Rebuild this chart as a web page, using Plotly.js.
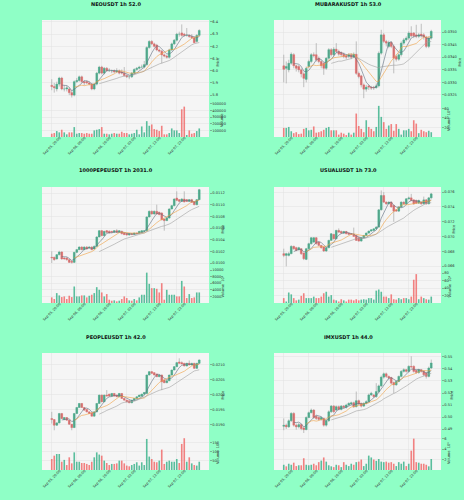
<!DOCTYPE html>
<html><head><meta charset="utf-8">
<script src="https://cdn.plot.ly/plotly-3.0.1.min.js"></script>
<style>html,body{margin:0;padding:0;background:#8fffc6;}</style>
</head><body><div id="chart" style="width:464px;height:500px;"></div>
<script>
// ---------- data ----------
const xTickIdx = [0, 10, 20, 30, 40, 50];
const xTickLabels = ['Sep 05, 20:00','Sep 06, 06:00','Sep 06, 16:00','Sep 07, 02:00','Sep 07, 12:00','Sep 07, 22:00'];

const titles = ['NEOUSDT 1h 52.0','MUBARAKUSDT 1h 53.0','1000PEPEUSDT 1h 2031.0','USUALUSDT 1h 73.0','PEOPLEUSDT 1h 42.0','IMXUSDT 1h 44.0'];
const volumeTitles = ['Volume','Volume  10⁶','Volume  10⁶','Volume  10⁶','Volume  10⁶','Volume  10⁶'];

const neoOpen  = [5.88,5.87,5.85,5.89,5.94,5.85,5.85,5.85,5.82,5.80,5.91,5.92,5.95,5.91,5.91,5.90,5.89,5.85,5.89,5.98,6.03,5.98,6.02,6.00,6.00,6.00,5.99,6.00,5.99,5.98,5.96,5.95,5.95,5.98,6.01,6.02,6.03,6.03,6.05,6.19,6.24,6.22,6.21,6.17,6.16,6.13,6.12,6.11,6.17,6.22,6.25,6.30,6.31,6.30,6.29,6.29,6.28,6.27,6.24,6.29];
const neoClose = [5.87,5.86,5.89,5.94,5.85,5.85,5.86,5.82,5.80,5.91,5.92,5.95,5.91,5.90,5.90,5.89,5.85,5.89,5.98,6.03,5.98,6.02,6.00,6.00,6.00,5.99,6.00,5.98,5.98,5.96,5.95,5.95,5.98,6.01,6.02,6.03,6.03,6.05,6.19,6.24,6.22,6.20,6.17,6.16,6.13,6.12,6.11,6.17,6.22,6.25,6.30,6.30,6.29,6.29,6.29,6.28,6.27,6.23,6.29,6.33];
const neoHigh  = [5.93,5.90,5.91,5.95,5.95,5.88,5.88,5.86,5.84,5.92,5.94,5.96,5.96,5.92,5.92,5.91,5.90,5.90,5.99,6.04,6.04,6.03,6.03,6.02,6.01,6.01,6.02,6.01,6.01,6.03,5.97,5.96,5.99,6.02,6.03,6.04,6.05,6.08,6.20,6.25,6.25,6.23,6.22,6.18,6.17,6.14,6.13,6.18,6.23,6.26,6.31,6.32,6.38,6.31,6.35,6.30,6.30,6.28,6.30,6.34];
const neoLow   = [5.84,5.82,5.83,5.87,5.84,5.83,5.83,5.80,5.78,5.79,5.90,5.91,5.90,5.88,5.89,5.88,5.84,5.84,5.88,5.97,5.97,5.97,5.99,5.99,5.98,5.98,5.98,5.97,5.97,5.95,5.94,5.93,5.94,5.97,6.00,6.01,6.02,6.02,6.04,6.18,6.21,6.19,6.16,6.15,6.06,6.11,6.10,6.10,6.16,6.21,6.24,6.28,6.28,6.28,6.28,6.27,6.26,6.23,6.23,6.28];
const neoVolume = [50000,60000,90000,70000,110000,70000,40000,70000,70000,150000,50000,60000,60000,50000,60000,50000,50000,100000,110000,120000,150000,50000,50000,40000,50000,60000,50000,50000,80000,60000,60000,40000,50000,60000,110000,40000,160000,70000,240000,170000,190000,120000,110000,90000,170000,40000,40000,60000,130000,100000,100000,60000,420000,460000,30000,100000,50000,60000,90000,130000];

const mubOpen  = [.03366,.03356,.03350,.03376,.03410,.03366,.03363,.03350,.03334,.03312,.03363,.03383,.03410,.03410,.03396,.03383,.03376,.03356,.03396,.03430,.03410,.03432,.03423,.03419,.03412,.03406,.03403,.03410,.03400,.03412,.03336,.03326,.03290,.03273,.03286,.03281,.03281,.03279,.03286,.03416,.03489,.03463,.03443,.03459,.03443,.03403,.03392,.03410,.03456,.03469,.03476,.03496,.03496,.03489,.03483,.03492,.03489,.03480,.03443,.03476];
const mubClose = [.03352,.03363,.03376,.03412,.03366,.03356,.03350,.03334,.03316,.03356,.03383,.03410,.03406,.03390,.03383,.03366,.03356,.03396,.03430,.03410,.03432,.03423,.03412,.03410,.03403,.03400,.03410,.03400,.03412,.03336,.03323,.03290,.03273,.03281,.03281,.03277,.03279,.03286,.03416,.03489,.03463,.03456,.03459,.03443,.03396,.03392,.03410,.03456,.03469,.03476,.03496,.03485,.03485,.03483,.03489,.03485,.03480,.03443,.03476,.03503];
const mubHigh  = [.03410,.03383,.03390,.03419,.03416,.03370,.03370,.03356,.03340,.03363,.03390,.03416,.03419,.03456,.03403,.03390,.03380,.03400,.03436,.03436,.03440,.03456,.03430,.03423,.03419,.03412,.03416,.03416,.03419,.03463,.03343,.03330,.03296,.03290,.03290,.03286,.03286,.03296,.03423,.03509,.03496,.03469,.03466,.03463,.03450,.03410,.03416,.03463,.03476,.03483,.03503,.03523,.03500,.03529,.03496,.03533,.03496,.03485,.03483,.03509];
const mubLow   = [.03300,.03296,.03340,.03370,.03356,.03343,.03340,.03320,.03281,.03300,.03356,.03376,.03400,.03383,.03376,.03356,.03330,.03350,.03390,.03403,.03403,.03416,.03406,.03403,.03396,.03392,.03396,.03392,.03396,.03330,.03316,.03280,.03237,.03263,.03270,.03270,.03270,.03275,.03280,.03410,.03456,.03443,.03436,.03436,.03336,.03383,.03386,.03403,.03450,.03463,.03469,.03480,.03476,.03476,.03476,.03478,.03470,.03436,.03436,.03470];
const mubVolume = [19,19,21,12,8,10,6,7,17,19,14,15,22,9,10,12,15,19,21,14,14,14,5,9,7,4,9,5,9,49,23,17,10,35,21,17,12,21,65,42,31,17,24,27,13,27,17,5,14,14,17,12,35,28,8,15,12,10,13,10];

const pepeOpen  = [.010097,.010097,.010069,.010143,.010189,.010086,.010086,.010057,.010029,.010011,.010183,.010229,.010274,.010229,.010274,.010257,.010274,.010240,.010286,.010446,.010554,.010469,.010554,.010543,.010543,.010526,.010554,.010526,.010543,.010514,.010503,.010480,.010503,.010491,.010514,.010514,.010526,.010543,.010554,.010789,.010886,.010840,.010886,.010869,.010857,.010754,.010726,.010771,.010926,.010983,.011114,.011086,.011057,.011097,.011086,.011057,.011086,.011051,.011000,.011086];
const pepeClose = [.010086,.010057,.010143,.010189,.010069,.010069,.010057,.010011,.010011,.010183,.010229,.010274,.010229,.010274,.010240,.010274,.010229,.010286,.010446,.010554,.010469,.010543,.010526,.010514,.010526,.010554,.010526,.010554,.010503,.010486,.010480,.010503,.010486,.010514,.010503,.010543,.010554,.010554,.010789,.010886,.010840,.010886,.010840,.010829,.010743,.010726,.010771,.010926,.010983,.011097,.011074,.011057,.011097,.011046,.011057,.011086,.011040,.011000,.011086,.011257];
const pepeHigh  = [.010200,.010110,.010150,.010210,.010200,.010097,.010097,.010069,.010040,.010190,.010240,.010286,.010286,.010286,.010290,.010290,.010286,.010300,.010460,.010560,.010560,.010550,.010560,.010560,.010550,.010565,.010580,.010560,.010554,.010520,.010514,.010510,.010514,.010520,.010520,.010550,.010560,.010565,.010800,.010900,.010900,.010900,.011000,.010880,.010870,.010760,.010780,.010940,.010990,.011110,.011229,.011097,.011110,.011229,.011097,.011097,.011100,.011060,.011097,.011270];
const pepeLow   = [.010000,.010040,.010060,.010130,.010057,.010057,.010040,.010000,.009990,.010000,.010170,.010220,.010220,.010220,.010229,.010250,.010220,.010229,.010280,.010440,.010460,.010460,.010514,.010503,.010514,.010520,.010514,.010514,.010490,.010480,.010469,.010470,.010480,.010486,.010497,.010509,.010520,.010537,.010550,.010780,.010829,.010829,.010830,.010820,.010730,.010554,.010720,.010760,.010920,.010970,.011060,.011040,.011050,.011040,.011050,.011050,.011030,.010990,.010990,.011080];
const pepeVolume = [1700,1200,3000,2300,1800,2000,1200,2200,1800,5000,2000,2000,2300,2300,1700,2200,2500,3000,4800,4000,3200,2000,2700,1000,700,800,500,700,1200,2000,1500,800,700,1200,800,1700,2500,2500,9200,5800,4500,4500,4300,3200,6000,1000,4000,2500,2500,2500,2000,2000,6700,5000,1500,2700,1500,1700,3200,3200];

const usualOpen  = [.06767,.06744,.06744,.06767,.06866,.06848,.06820,.06834,.06776,.06690,.06834,.06902,.06924,.06983,.06924,.06879,.06857,.06803,.06848,.06947,.07028,.06969,.07082,.07068,.07046,.07068,.07046,.07037,.07028,.07014,.06983,.06938,.06983,.07014,.07046,.07073,.07082,.07104,.07127,.07361,.07555,.07465,.07442,.07465,.07420,.07361,.07343,.07400,.07465,.07442,.07510,.07523,.07496,.07487,.07451,.07465,.07442,.07496,.07442,.07523];
const usualClose = [.06744,.06767,.06767,.06866,.06834,.06812,.06848,.06767,.06699,.06834,.06902,.06983,.06983,.06902,.06879,.06848,.06803,.06848,.06947,.07037,.06969,.07082,.07059,.07046,.07068,.07037,.07028,.07028,.07001,.06947,.06938,.06983,.07014,.07046,.07073,.07091,.07104,.07127,.07361,.07555,.07465,.07442,.07465,.07400,.07343,.07343,.07400,.07465,.07442,.07510,.07523,.07487,.07442,.07451,.07487,.07442,.07496,.07442,.07523,.07577];
const usualHigh  = [.06834,.06780,.06790,.06880,.06875,.06860,.06860,.06840,.06780,.06845,.06915,.06992,.06992,.06992,.06930,.06885,.06865,.06860,.06955,.07045,.07035,.07090,.07110,.07080,.07075,.07075,.07055,.07045,.07120,.07020,.06990,.06990,.07020,.07055,.07080,.07100,.07110,.07140,.07370,.07623,.07600,.07475,.07475,.07475,.07430,.07370,.07410,.07475,.07475,.07520,.07540,.07577,.07500,.07500,.07500,.07475,.07540,.07505,.07535,.07590];
const usualLow   = [.06720,.06595,.06730,.06760,.06820,.06800,.06810,.06750,.06680,.06680,.06820,.06890,.06915,.06890,.06870,.06835,.06790,.06790,.06840,.06940,.06960,.06960,.07050,.07040,.07040,.07030,.07020,.07020,.06995,.06940,.06930,.06930,.06975,.07010,.07040,.07065,.07075,.07095,.07120,.07350,.07455,.07430,.07435,.07390,.07200,.07335,.07335,.07390,.07430,.07430,.07500,.07480,.07430,.07440,.07440,.07430,.07435,.07430,.07435,.07510];
const usualVolume = [13,4,28,23,13,7,9,19,26,13,13,13,17,13,13,17,26,30,17,21,9,7,4,10,7,4,9,9,7,10,7,9,10,9,13,13,9,33,36,30,17,17,13,23,10,9,13,10,13,13,10,17,62,77,10,17,13,10,9,17];

const peopleOpen  = [.019213,.019179,.018989,.019068,.019380,.019179,.019246,.019157,.019023,.018911,.019380,.019581,.019716,.019581,.019514,.019436,.019403,.019291,.019436,.019716,.019995,.019771,.019995,.020028,.019961,.020050,.019995,.019939,.020050,.019883,.019827,.019805,.019738,.019827,.019883,.019939,.019961,.020028,.020050,.020665,.020777,.020743,.020698,.020609,.020665,.020497,.020408,.020475,.020665,.020832,.020944,.021101,.021078,.021056,.020966,.021056,.021000,.021056,.020888,.021056];
const peopleClose = [.019179,.018989,.019068,.019380,.019213,.019246,.019157,.019023,.018911,.019380,.019581,.019716,.019581,.019492,.019436,.019380,.019291,.019436,.019716,.019995,.019771,.019995,.019961,.019961,.020050,.019961,.019939,.020050,.019883,.019827,.019771,.019738,.019827,.019883,.019939,.019995,.020028,.020084,.020665,.020777,.020721,.020665,.020609,.020665,.020441,.020408,.020475,.020665,.020832,.020944,.021078,.021056,.021034,.020966,.021056,.021000,.021056,.020888,.021056,.021168];
const peopleHigh  = [.019436,.019190,.019080,.019400,.019400,.019260,.019260,.019170,.019030,.019400,.019600,.019730,.019730,.019600,.019520,.019450,.019410,.019450,.019730,.020010,.020010,.020010,.020162,.020040,.020060,.020060,.020010,.020060,.020060,.019895,.019840,.019815,.019840,.019895,.019950,.020005,.020040,.020095,.020680,.020790,.020790,.020755,.020710,.020680,.020680,.020510,.020490,.020680,.020845,.020955,.021090,.021223,.021120,.021070,.021070,.021150,.021070,.021070,.021070,.021180];
const peopleLow   = [.019045,.018822,.018970,.019050,.019200,.019160,.019140,.019000,.018822,.018900,.019370,.019570,.019570,.019480,.019420,.019370,.019280,.019280,.019420,.019700,.019760,.019760,.019950,.019950,.019950,.019950,.019930,.019930,.019870,.019815,.019760,.019725,.019725,.019815,.019870,.019930,.019950,.020020,.020040,.020650,.020710,.020650,.020595,.020595,.020162,.020395,.020395,.020460,.020650,.020820,.020930,.021045,.021020,.020955,.020955,.020990,.020990,.020875,.020875,.021045];
const peopleVolume = [60,78,87,87,45,55,27,69,36,96,45,45,38,38,33,27,45,69,96,84,78,51,38,27,33,33,36,51,51,36,24,20,27,33,42,24,42,27,169,73,60,45,42,51,111,33,45,51,45,45,60,38,142,173,45,69,36,27,24,45];

const imxOpen  = [.4923,.4932,.4918,.4969,.5030,.4932,.4918,.4937,.4909,.4895,.4996,.5036,.5058,.5007,.4996,.4980,.4988,.4932,.4969,.5044,.5091,.5058,.5086,.5063,.5091,.5080,.5100,.5108,.5119,.5086,.5136,.5114,.5091,.5114,.5128,.5184,.5184,.5170,.5212,.5259,.5332,.5360,.5338,.5329,.5287,.5268,.5296,.5338,.5380,.5394,.5380,.5422,.5422,.5388,.5371,.5394,.5380,.5366,.5338,.5408];
const imxClose = [.4932,.4918,.4969,.5030,.4932,.4918,.4937,.4904,.4895,.4996,.5036,.5058,.4996,.4988,.4980,.4996,.4932,.4969,.5044,.5091,.5044,.5086,.5063,.5091,.5080,.5100,.5114,.5119,.5086,.5136,.5108,.5091,.5114,.5128,.5184,.5198,.5170,.5212,.5259,.5332,.5360,.5338,.5324,.5282,.5268,.5296,.5338,.5380,.5394,.5380,.5422,.5416,.5380,.5371,.5394,.5380,.5352,.5338,.5408,.5450];
const imxHigh  = [.4988,.4945,.4980,.5040,.5040,.4945,.4950,.4945,.4915,.5005,.5045,.5070,.5065,.5015,.5005,.5005,.4995,.4980,.5055,.5100,.5100,.5095,.5095,.5100,.5100,.5110,.5122,.5128,.5128,.5212,.5145,.5120,.5122,.5140,.5195,.5210,.5190,.5282,.5270,.5345,.5370,.5370,.5345,.5335,.5295,.5305,.5345,.5390,.5405,.5400,.5430,.5506,.5430,.5395,.5400,.5400,.5390,.5375,.5420,.5478];
const imxLow   = [.4890,.4900,.4910,.4960,.4920,.4895,.4905,.4890,.4867,.4890,.4990,.5030,.4985,.4975,.4970,.4970,.4920,.4920,.4960,.5035,.5035,.5050,.5055,.5055,.5070,.5070,.5090,.5100,.5075,.5080,.5100,.5080,.5085,.5105,.5120,.5175,.5160,.5160,.5200,.5250,.5320,.5325,.5310,.5270,.5198,.5260,.5290,.5330,.5370,.5370,.5370,.5405,.5370,.5360,.5360,.5370,.5340,.5320,.5330,.5400];
const imxVolume = [1.0,0.7,1.2,1.0,1.4,0.75,0.9,0.9,2.25,1.0,0.9,1.0,1.2,0.9,1.5,1.8,2.4,1.6,0.9,0.7,0.55,1.0,0.9,0.55,1.5,1.0,0.75,1.2,1.0,1.5,1.6,2.0,0.75,1.2,2.75,2.4,2.0,1.75,2.1,1.6,1.5,1.6,1.4,1.5,1.2,0.75,1.5,1.2,1.6,0.75,1.2,3.7,6.0,1.5,1.4,1.2,1.2,1.0,0.7,2.1];

// price-axis ticks and volume-axis ticks shown in each panel
const priceTicks = [
  [5.8,5.9,6.0,6.1,6.2,6.3,6.4],
  [0.0325,0.0330,0.0335,0.0340,0.0345,0.0350],
  [0.0100,0.0102,0.0104,0.0106,0.0108,0.0110,0.0112],
  [0.066,0.068,0.070,0.072,0.074,0.076],
  [0.0190,0.0195,0.0200,0.0205,0.0210],
  [0.49,0.50,0.51,0.52,0.53,0.54,0.55]
];
const volumeTicks = [
  [100000,200000,300000,400000,500000],
  [20,40,60],
  [2000,4000,6000,8000,10000],
  [20,40,60,80],
  [50,100,150],
  [2,4,6]
];

// ---------- styling / layout config ----------
const priceFmt = ['.1f','.4f','.4f','.3f','.4f','.2f'];
const priceRange = [[5.735,6.416],[0.03218,0.03548],[0.00988,0.011303],[0.06546,0.0767],[0.01863,0.0214],[0.4842,0.5533]];
const volRange = [[0,515000],[0,71],[0,10000],[0,88],[0,185],[0,6.5]];
const priceLabelDx = [8,18,13,12,13,10];
const volLabelDx = [13,8,13,8,9,8];
const W = 464, H = 500;
const colPx = [[42,209],[274,441]];
const rowPx = [[20,103,137],[187,270,303],[353,436,470]];
const titleY = [4,170,337];
const UP = '#1fa97c', DOWN = '#f05454', WICK = '#9a9a9a';
const MA_COL = ['#5f6f80','#f0a040','#a0a0a0'];
const BG = '#8fffc6', PLOTBG = '#f5f5f5', GRID = '#e2e2e2';

const series = [
  [neoOpen,neoHigh,neoLow,neoClose,neoVolume],
  [mubOpen,mubHigh,mubLow,mubClose,mubVolume],
  [pepeOpen,pepeHigh,pepeLow,pepeClose,pepeVolume],
  [usualOpen,usualHigh,usualLow,usualClose,usualVolume],
  [peopleOpen,peopleHigh,peopleLow,peopleClose,peopleVolume],
  [imxOpen,imxHigh,imxLow,imxClose,imxVolume]
];

function sma(a, n){ return a.map((v,i)=> i<n-1 ? null : a.slice(i-n+1,i+1).reduce((s,x)=>s+x,0)/n); }

const traces = [];
const layout = {
  width: W, height: H, paper_bgcolor: BG, plot_bgcolor: PLOTBG,
  margin: {l:0,r:0,t:0,b:0}, showlegend: false,
  font: {family: 'DejaVu Sans', size: 4, color: '#333'},
  annotations: []
};
const tickFont = {family:'DejaVu Sans', size:3.6, color:'#333'};

series.forEach((s, k) => {
  const [O,Hh,L,C,V] = s;
  const idx = O.map((_,i)=>i);
  const col = colPx[k%2], row = rowPx[Math.floor(k/2)];
  const xd = [col[0]/W, col[1]/W];
  const pd = [1-row[1]/H, 1-row[0]/H];
  const vd = [1-row[2]/H, 1-row[1]/H];
  const px = 'x'+(2*k+1), vx = 'x'+(2*k+2), py = 'y'+(2*k+1), vy = 'y'+(2*k+2);
  const dir = O.map((o,i)=> C[i] >= o ? UP : DOWN);

  const wx = [], wy = [];
  idx.forEach(i=>{ wx.push(i,i,null); wy.push(L[i],Hh[i],null); });
  traces.push({type:'scatter', mode:'lines', x:wx, y:wy, xaxis:px, yaxis:py,
    line:{color:WICK, width:0.6}, hoverinfo:'skip'});
  traces.push({type:'bar', x:idx, y:C.map((c,i)=>c-O[i]), base:O, width:0.7,
    xaxis:px, yaxis:py, marker:{color:dir, line:{color:dir, width:0.4}}});
  [5,10,20].forEach((m,j)=>{
    traces.push({type:'scatter', mode:'lines', x:idx, y:sma(C,m), xaxis:px, yaxis:py,
      line:{color:MA_COL[j], width:0.6}, connectgaps:false});
  });
  traces.push({type:'bar', x:idx, y:V, width:0.65, xaxis:vx, yaxis:vy,
    marker:{color:dir, opacity:0.72}});

  const xcommon = {range:[-3.9,62.9], tickvals:xTickIdx, showticklabels:false, ticks:'',
    showgrid:true, gridcolor:GRID, gridwidth:0.5, zeroline:false, showline:false, fixedrange:true, domain:xd};
  layout['xaxis'+(2*k+1)] = Object.assign({}, xcommon, {anchor:py});
  layout['xaxis'+(2*k+2)] = Object.assign({}, xcommon, {anchor:vy});
  layout['yaxis'+(2*k+1)] = {domain:pd, anchor:px, side:'right', range:priceRange[k],
    tickvals:priceTicks[k], tickformat:priceFmt[k], tickfont:tickFont, ticks:'outside', ticklen:1.5, tickcolor:'#666', tickwidth:0.5,
    showgrid:true, gridcolor:GRID, gridwidth:0.5, zeroline:false, showline:false, fixedrange:true};
  layout['yaxis'+(2*k+2)] = {domain:vd, anchor:vx, side:'right', range:volRange[k],
    tickvals:volumeTicks[k], tickformat:'d', tickfont:tickFont, ticks:'outside', ticklen:1.5, tickcolor:'#666', tickwidth:0.5,
    showgrid:true, gridcolor:GRID, gridwidth:0.5, zeroline:false, showline:false, fixedrange:true};

  layout.annotations.push({text:'<b>'+titles[k]+'</b>', xref:'paper', yref:'paper',
    x:(k%2===0?116:348)/W, y:1-titleY[Math.floor(k/2)]/H, xanchor:'center', yanchor:'middle',
    showarrow:false, font:{family:'DejaVu Sans', size:5, color:'#111'}});
  layout.annotations.push({text:'Price', xref:'paper', yref:'paper', x:(col[1]+priceLabelDx[k])/W, y:1-(row[0]+row[1])/2/H,
    textangle:-90, showarrow:false, xanchor:'center', yanchor:'middle', font:{family:'DejaVu Sans', size:3.6, color:'#333'}});
  layout.annotations.push({text:volumeTitles[k], xref:'paper', yref:'paper', x:(col[1]+volLabelDx[k])/W, y:1-(row[1]+row[2])/2/H,
    textangle:-90, showarrow:false, xanchor:'center', yanchor:'middle', font:{family:'DejaVu Sans', size:3.6, color:'#333'}});
  xTickIdx.forEach((t,j)=>{
    layout.annotations.push({text:xTickLabels[j], xref:vx, yref:'paper', x:t, y:1-(row[2]+9)/H,
      textangle:-45, showarrow:false, xanchor:'center', yanchor:'middle', font:{family:'DejaVu Sans', size:3.4, color:'#333'}});
  });
});

Plotly.newPlot('chart', traces, layout, {staticPlot:true, displayModeBar:false});
</script></body></html>
